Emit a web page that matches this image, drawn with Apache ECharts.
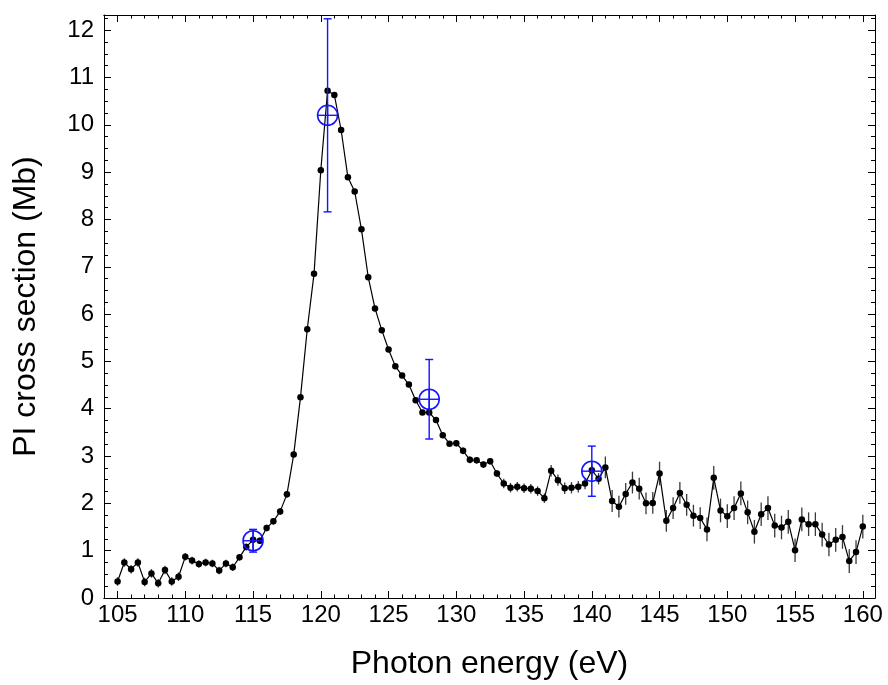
<!DOCTYPE html>
<html>
<head>
<meta charset="utf-8">
<script src="https://cdn.jsdelivr.net/npm/echarts@6/dist/echarts.min.js"></script>
<style>html,body{margin:0;padding:0;background:#fff}#c{width:888px;height:685px}</style>
</head>
<body>
<div id="c"></div>
<script>
// ---- data ----
var energy = [105,105.5,106,106.5,107,107.5,108,108.5,109,109.5,
  110,110.5,111,111.5,112,112.5,113,113.5,114,114.5,
  115,115.5,116,116.5,117,117.5,118,118.5,119,119.5,
  120,120.5,121,121.5,122,122.5,123,123.5,124,124.5,
  125,125.5,126,126.5,127,127.5,128,128.5,129,129.5,
  130,130.5,131,131.5,132,132.5,133,133.5,134,134.5,
  135,135.5,136,136.5,137,137.5,138,138.5,139,139.5,
  140,140.5,141,141.5,142,142.5,143,143.5,144,144.5,
  145,145.5,146,146.5,147,147.5,148,148.5,149,149.5,
  150,150.5,151,151.5,152,152.5,153,153.5,154,154.5,
  155,155.5,156,156.5,157,157.5,158,158.5,159,159.5,160];
var crossSection = [0.35,0.75,0.61,0.75,0.34,0.52,0.31,0.59,0.35,0.45,
  0.87,0.79,0.72,0.75,0.73,0.58,0.73,0.65,0.86,1.08,
  1.23,1.21,1.48,1.62,1.83,2.19,3.03,4.24,5.68,6.85,
  9.04,10.72,10.63,9.89,8.89,8.59,7.79,6.78,6.12,5.66,
  5.25,4.90,4.70,4.51,4.18,3.92,3.92,3.76,3.44,3.26,
  3.27,3.11,2.92,2.91,2.82,2.89,2.63,2.42,2.33,2.35,
  2.32,2.31,2.26,2.11,2.69,2.49,2.32,2.33,2.35,2.42,
  2.70,2.52,2.76,2.05,1.93,2.20,2.44,2.31,2.00,2.01,
  2.63,1.63,1.90,2.22,1.97,1.74,1.69,1.45,2.54,1.85,
  1.73,1.90,2.21,1.81,1.40,1.77,1.90,1.53,1.49,1.61,
  1.01,1.66,1.56,1.56,1.34,1.13,1.23,1.29,0.78,0.97,1.51];
var crossErr = [0.09,0.09,0.09,0.09,0.09,0.09,0.09,0.09,0.09,0.09,
  0.08,0.08,0.08,0.08,0.08,0.08,0.08,0.08,0.07,0.07,
  0.07,0.07,0.07,0.07,0.07,0.07,0.05,0.05,0.05,0.05,
  0.05,0.05,0.05,0.05,0.05,0.05,0.05,0.05,0.05,0.05,
  0.05,0.05,0.05,0.05,0.05,0.05,0.05,0.05,0.05,0.05,
  0.07,0.07,0.07,0.07,0.07,0.07,0.07,0.10,0.10,0.10,
  0.10,0.10,0.10,0.10,0.12,0.12,0.12,0.12,0.12,0.12,
  0.12,0.12,0.23,0.23,0.23,0.23,0.23,0.23,0.23,0.23,
  0.25,0.23,0.23,0.23,0.23,0.23,0.23,0.25,0.25,0.25,
  0.25,0.25,0.25,0.25,0.25,0.25,0.25,0.25,0.25,0.25,
  0.25,0.25,0.25,0.25,0.25,0.25,0.25,0.25,0.25,0.25,0.25];
var refEnergy = [115, 120.5, 128, 140];
var refValue = [1.21, 10.2, 4.2, 2.68];
var refErr = [0.24, 2.04, 0.84, 0.53];
var xMajorTicks = [105,110,115,120,125,130,135,140,145,150,155,160];

// ---- build ----
var lineData = energy.map(function(x,i){return [x, crossSection[i]];});
var errData = energy.map(function(x,i){return [x, crossSection[i], crossErr[i]];});
var refData = refEnergy.map(function(x,i){return [x, refValue[i], refErr[i]];});

var FONT = 'Liberation Sans, Arial, Helvetica, sans-serif';
var XMIN = 104, XMAX = 160.9, YMIN = 0, YMAX = 12.32;

function xAx(pos, major, showLabel){
  var a = {
    type:'value', gridIndex:0, position:pos, min:XMIN, max:XMAX,
    axisLine:{show:true, onZero:false, lineStyle:{color:'#000', width:1}},
    splitLine:{show:false},
    axisTick:{show:true, inside:true, length: major?7:3.5, lineStyle:{color:'#000', width:1}},
    axisLabel:{show:false}
  };
  if (major) {
    a.axisTick.customValues = xMajorTicks;
    if (showLabel) {
      a.axisLabel = {show:true, customValues:xMajorTicks, color:'#000', fontSize:24, fontFamily:FONT, margin:5};
    }
  } else {
    a.interval = 1;
  }
  return a;
}
function yAx(pos, showLabel){
  return {
    type:'value', gridIndex:0, position:pos, min:YMIN, max:YMAX, interval:1,
    axisLine:{show:true, onZero:false, lineStyle:{color:'#000', width:1}},
    splitLine:{show:false},
    axisTick:{show:true, inside:true, length:7, lineStyle:{color:'#000', width:1}},
    minorTick:{show:true, splitNumber:4, length:4, lineStyle:{color:'#000', width:1}},
    axisLabel:{show:showLabel, color:'#000', fontSize:24, fontFamily:FONT, margin:10,
      formatter:function(v){return v;}},
  };
}

var xAxes = [xAx('bottom', true, true), xAx('bottom', false), xAx('top', true, false), xAx('top', false)];
xAxes[0].name = 'Photon energy (eV)';
xAxes[0].nameLocation = 'middle';
xAxes[0].nameGap = 50;
xAxes[0].nameTextStyle = {color:'#000', fontSize:32, fontFamily:FONT};
var yAxes = [yAx('left', true), yAx('right', false)];
yAxes[0].name = 'PI cross section (Mb)';
yAxes[0].nameLocation = 'middle';
yAxes[0].nameGap = 62;
yAxes[0].nameTextStyle = {color:'#000', fontSize:32, fontFamily:FONT};

var chart = echarts.init(document.getElementById('c'), null, {renderer:'canvas'});
chart.setOption({
  animation:false,
  backgroundColor:'#fff',
  grid:{left:104, right:13, top:15, bottom:87, containLabel:false},
  xAxis:xAxes,
  yAxis:yAxes,
  series:[
    {
      type:'custom', xAxisIndex:0, yAxisIndex:0, z:1,
      data:errData, encode:{x:0, y:1},
      renderItem:function(params, api){
        var x = api.value(0), y = api.value(1), e = api.value(2);
        var p1 = api.coord([x, y-e]), p2 = api.coord([x, y+e]);
        return {type:'line', shape:{x1:p1[0], y1:p1[1], x2:p2[0], y2:p2[1]},
          style:{stroke:'#3a3a3a', lineWidth:1.3}};
      }
    },
    {
      type:'line', xAxisIndex:0, yAxisIndex:0, z:2,
      data:lineData, symbol:'circle', symbolSize:6.5, showSymbol:true,
      lineStyle:{color:'#000', width:1.2},
      itemStyle:{color:'#000'}
    },
    {
      type:'custom', xAxisIndex:0, yAxisIndex:0, z:3,
      data:refData, encode:{x:0, y:1},
      renderItem:function(params, api){
        var x = api.value(0), y = api.value(1), e = api.value(2);
        var c = api.coord([x, y]);
        var lo = api.coord([x, y-e]), hi = api.coord([x, y+e]);
        var r = 10, cap = 4;
        var st = {stroke:'#1414ff', lineWidth:1.4, fill:null};
        return {type:'group', children:[
          {type:'line', shape:{x1:lo[0], y1:lo[1], x2:hi[0], y2:hi[1]}, style:st},
          {type:'line', shape:{x1:lo[0]-cap, y1:lo[1], x2:lo[0]+cap, y2:lo[1]}, style:st},
          {type:'line', shape:{x1:hi[0]-cap, y1:hi[1], x2:hi[0]+cap, y2:hi[1]}, style:st},
          {type:'circle', shape:{cx:c[0], cy:c[1], r:r}, style:{stroke:'#1414ff', lineWidth:1.6, fill:null}},
          {type:'line', shape:{x1:c[0]-r, y1:c[1], x2:c[0]+r, y2:c[1]}, style:st},
          {type:'line', shape:{x1:c[0], y1:c[1]-r, x2:c[0], y2:c[1]+r}, style:st}
        ]};
      }
    }
  ]
});
</script>
</body>
</html>
